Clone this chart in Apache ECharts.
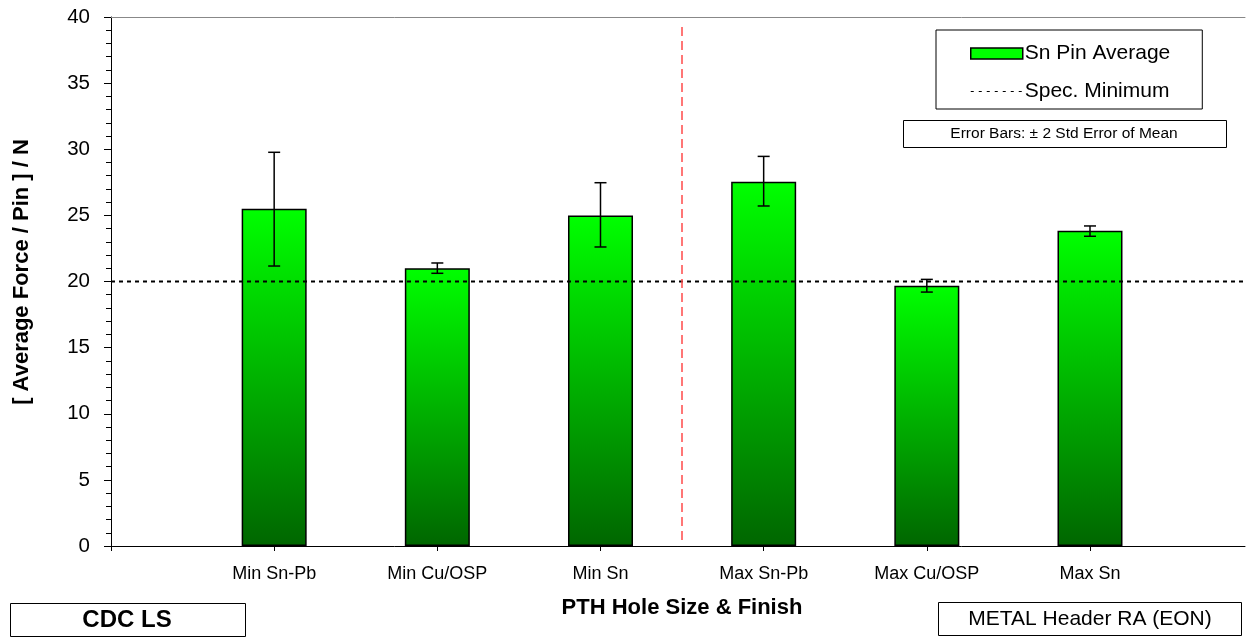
<!DOCTYPE html>
<html>
<head>
<meta charset="utf-8">
<script src="https://cdn.jsdelivr.net/npm/echarts@6/dist/echarts.min.js"></script>
<style>
html,body{margin:0;padding:0;background:#fff;}
#chart{width:1246px;height:637px;}
</style>
</head>
<body>
<div id="chart"></div>
<script>
// ---- data ----
const categories = ['Min Sn-Pb', 'Min Cu/OSP', 'Min Sn', 'Max Sn-Pb', 'Max Cu/OSP', 'Max Sn'];
const pinAverage = [25.5, 21.0, 25.0, 27.55, 19.68, 23.84];
const errLow = [21.17, 20.62, 22.61, 25.71, 19.2, 23.42];
const errHigh = [29.77, 21.4, 27.47, 29.46, 20.16, 24.2];
const specMinimum = 20;
const yTicks = [0, 5, 10, 15, 20, 25, 30, 35, 40];

const FONT = 'Liberation Sans, Arial, sans-serif';
const chart = echarts.init(document.getElementById('chart'), null, {renderer: 'canvas'});

const barData = pinAverage.map((v, i) => [i + 1, v]);
const errData = categories.map((c, i) => [i + 1, errLow[i], errHigh[i]]);
const xMax = categories.length + 0.95;
const divider = categories.length / 2 + 0.5;

const option = {
  animation: false,
  backgroundColor: '#fff',
  grid: {left: 111, right: 1, top: 17, bottom: 91},
  xAxis: [{
    type: 'value', min: 0, max: xMax, interval: 1,
    axisLine: {show: true, lineStyle: {color: '#000', width: 1}},
    axisTick: {show: true, length: 5, lineStyle: {color: '#000'}},
    splitLine: {show: false},
    axisLabel: {
      margin: 19, fontFamily: FONT, fontSize: 18, color: '#000',
      showMinLabel: true, showMaxLabel: false,
      formatter: v => (v >= 1 && v <= categories.length && Number.isInteger(v)) ? categories[v - 1] : ''
    }
  }, {
    type: 'value', position: 'top', min: 0, max: xMax,
    axisLine: {show: true, onZero: false, lineStyle: {color: '#888', width: 1}},
    axisTick: {show: false}, axisLabel: {show: false}, splitLine: {show: false}
  }],
  yAxis: {
    type: 'value', min: yTicks[0], max: yTicks[yTicks.length - 1], interval: 5,
    axisLine: {show: true, lineStyle: {color: '#000', width: 1}},
    axisTick: {show: true, inside: false, length: 7, lineStyle: {color: '#000'}},
    minorTick: {show: true, splitNumber: 5, length: 5, lineStyle: {color: '#000'}},
    splitLine: {show: false},
    axisLabel: {margin: 21, fontFamily: FONT, fontSize: 20.5, color: '#000'}
  },
  legend: {
    left: 936, top: 30,
    orient: 'vertical',
    padding: [13, 32, 7, 34],
    itemGap: 17,
    itemWidth: 52, itemHeight: 11,
    borderColor: '#000', borderWidth: 1, backgroundColor: '#fff',
    textStyle: {fontFamily: FONT, fontSize: 21, color: '#000', padding: [0, 0, 0, -3]},
    data: [
      {name: 'Sn Pin Average', icon: 'rect', itemStyle: {color: '#00ff00', borderColor: '#000', borderWidth: 1.5}},
      {name: 'Spec. Minimum', lineStyle: {color: '#000', type: [3, 5], width: 1.2},
       itemStyle: {color: 'rgba(0,0,0,0)', borderColor: 'rgba(0,0,0,0)', borderWidth: 0, opacity: 0}}
    ]
  },
  series: [
    {
      name: 'Sn Pin Average',
      type: 'bar',
      data: barData,
      barWidth: 65,
      itemStyle: {
        color: new echarts.graphic.LinearGradient(0, 0, 0, 1, [
          {offset: 0, color: '#00ff00'},
          {offset: 1, color: '#006600'}
        ]),
        borderColor: '#000', borderWidth: 1.5
      },
      z: 2,
      markLine: {
        silent: true, symbol: 'none', label: {show: false},
        lineStyle: {color: '#ff4a4a', type: [9, 5], width: 1.5},
        data: [[{coord: [divider, 0.45]}, {coord: [divider, 39.6]}]]
      }
    },
    {
      name: 'Spec. Minimum',
      type: 'line',
      data: [[0, specMinimum], [xMax, specMinimum]],
      symbol: 'none',
      lineStyle: {color: '#000', type: [4, 4], width: 2},
      z: 3
    },
    {
      type: 'custom',
      name: 'err',
      data: errData,
      z: 4,
      renderItem: function (params, api) {
        const x = api.value(0);
        const lo = api.coord([x, api.value(1)]);
        const hi = api.coord([x, api.value(2)]);
        const hw = 6;
        const st = {stroke: '#000', lineWidth: 1.5};
        return {
          type: 'group',
          children: [
            {type: 'line', shape: {x1: hi[0], y1: hi[1], x2: lo[0], y2: lo[1]}, style: st},
            {type: 'line', shape: {x1: hi[0] - hw, y1: hi[1], x2: hi[0] + hw, y2: hi[1]}, style: st},
            {type: 'line', shape: {x1: lo[0] - hw, y1: lo[1], x2: lo[0] + hw, y2: lo[1]}, style: st}
          ]
        };
      }
    }
  ],
  graphic: [
    {type: 'text', x: 22, y: 272, rotation: Math.PI / 2, style: {text: '[ Average Force / Pin ] / N', font: 'bold 22px ' + FONT, fill: '#000', align: 'center', verticalAlign: 'middle'}},
    {type: 'text', x: 682, y: 608, style: {text: 'PTH Hole Size & Finish', font: 'bold 22px ' + FONT, fill: '#000', align: 'center', verticalAlign: 'middle'}},
    {type: 'rect', left: 903, top: 120, shape: {width: 323, height: 27}, style: {fill: '#fff', stroke: '#000', lineWidth: 1}},
    {type: 'text', x: 1064, y: 134, style: {text: 'Error Bars: ± 2 Std Error of Mean', font: '15.5px ' + FONT, fill: '#000', align: 'center', verticalAlign: 'middle'}},
    {type: 'rect', left: 10, top: 603, shape: {width: 235, height: 33}, style: {fill: '#fff', stroke: '#000', lineWidth: 1}},
    {type: 'text', x: 127, y: 620, style: {text: 'CDC LS', font: 'bold 24px ' + FONT, fill: '#000', align: 'center', verticalAlign: 'middle'}},
    {type: 'rect', left: 938, top: 602, shape: {width: 303, height: 33}, style: {fill: '#fff', stroke: '#000', lineWidth: 1}},
    {type: 'text', x: 1090, y: 619, style: {text: 'METAL Header RA (EON)', font: '21px ' + FONT, fill: '#000', align: 'center', verticalAlign: 'middle'}}
  ]
};
chart.setOption(option);
</script>
</body>
</html>
